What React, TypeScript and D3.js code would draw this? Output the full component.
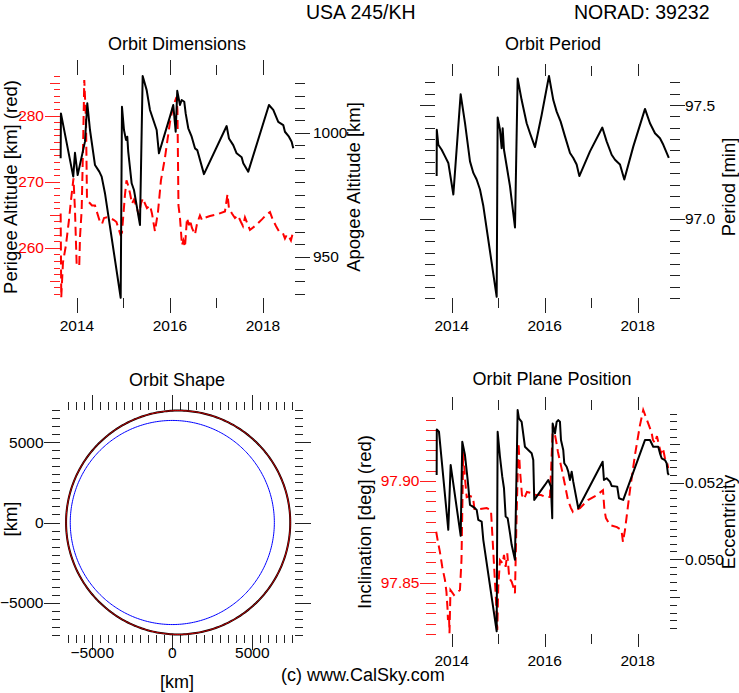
import React from 'react';
import * as d3 from 'd3';

const FONT = '"Liberation Sans", Arial, Helvetica, sans-serif';

// ---------- data ----------
const apogeeYears = [2013.649, 2013.655, 2013.92, 2013.957, 2014.015, 2014.172, 2014.222, 2014.28, 2014.387, 2014.48, 2014.531, 2014.602, 2014.94, 2014.968, 2015.011, 2015.054, 2015.082, 2015.103, 2015.176, 2015.226, 2015.355, 2015.413, 2015.499, 2015.57, 2015.714, 2015.763, 2016.0, 2016.071, 2016.123, 2016.157, 2016.215, 2016.252, 2016.308, 2016.338, 2016.394, 2016.467, 2016.538, 2016.587, 2016.731, 2017.219, 2017.269, 2017.361, 2017.434, 2017.542, 2017.577, 2017.684, 2018.129, 2018.222, 2018.329, 2018.437, 2018.473, 2018.559, 2018.617, 2018.652];
const apogeeKm = [989.7, 1007.8, 982.3, 991.9, 982.9, 996.4, 1011.9, 1001.1, 987.0, 984.3, 982.3, 975.6, 933.4, 1010.5, 1001.1, 997.1, 998.4, 992.3, 979.6, 976.9, 962.8, 1022.9, 1017.2, 1009.2, 1001.1, 991.7, 1006.5, 1011.2, 1000.4, 1016.9, 1011.2, 1013.2, 1012.5, 1007.8, 1001.8, 998.4, 993.7, 993.0, 983.3, 1002.7, 997.7, 995.0, 991.7, 990.1, 987.7, 984.3, 1011.2, 1009.2, 1004.4, 1003.1, 1000.4, 998.4, 996.4, 993.7];

const perigeeYears = [2013.649, 2013.662, 2013.699, 2013.763, 2013.828, 2013.871, 2013.925, 2013.957, 2013.994, 2014.049, 2014.065, 2014.101, 2014.135, 2014.157, 2014.194, 2014.215, 2014.258, 2014.323, 2014.387, 2014.43, 2014.495, 2014.538, 2014.581, 2014.645, 2014.71, 2014.796, 2014.849, 2014.935, 2014.968, 2015.032, 2015.065, 2015.097, 2015.14, 2015.183, 2015.226, 2015.29, 2015.333, 2015.376, 2015.419, 2015.462, 2015.505, 2015.57, 2015.613, 2015.677, 2015.742, 2015.806, 2015.892, 2016.0, 2016.065, 2016.14, 2016.161, 2016.183, 2016.215, 2016.258, 2016.29, 2016.323, 2016.366, 2016.409, 2016.43, 2016.473, 2016.538, 2016.581, 2016.645, 2016.688, 2016.731, 2016.86, 2017.032, 2017.183, 2017.237, 2017.269, 2017.333, 2017.398, 2017.462, 2017.527, 2017.57, 2017.613, 2017.72, 2017.849, 2017.978, 2018.086, 2018.151, 2018.215, 2018.28, 2018.344, 2018.43, 2018.473, 2018.516, 2018.559, 2018.602, 2018.634];
const perigeeKm = [265.2, 252.5, 257.8, 260.4, 264.2, 267.2, 270.5, 265.7, 257.3, 257.3, 261.6, 265.7, 276.7, 285.4, 279.3, 267.5, 266.9, 266.4, 266.4, 265.4, 263.9, 263.6, 264.5, 264.6, 264.5, 264.2, 263.9, 262.0, 262.3, 268.0, 270.2, 269.5, 268.3, 266.7, 267.3, 266.0, 264.9, 266.7, 267.5, 266.7, 266.0, 266.4, 265.2, 262.5, 265.4, 270.2, 273.6, 279.0, 281.3, 282.8, 280.8, 266.4, 264.6, 260.4, 261.1, 260.1, 264.5, 263.4, 264.2, 263.0, 262.0, 263.6, 264.9, 264.2, 264.5, 264.8, 265.1, 265.5, 268.1, 266.0, 265.2, 264.5, 264.9, 263.9, 263.3, 264.6, 262.7, 263.4, 264.3, 265.1, 265.4, 264.2, 263.3, 262.5, 262.2, 261.4, 262.0, 261.7, 261.1, 262.0];

const periodYears = [2013.677, 2013.68, 2013.713, 2013.785, 2013.857, 2013.928, 2014.036, 2014.193, 2014.287, 2014.394, 2014.466, 2014.537, 2014.609, 2014.681, 2014.968, 2014.989, 2015.039, 2015.075, 2015.097, 2015.125, 2015.254, 2015.362, 2015.419, 2015.505, 2015.613, 2015.685, 2015.792, 2015.935, 2016.093, 2016.186, 2016.258, 2016.344, 2016.437, 2016.545, 2016.616, 2016.688, 2016.746, 2016.975, 2017.24, 2017.333, 2017.441, 2017.513, 2017.62, 2017.713, 2017.907, 2018.158, 2018.265, 2018.373, 2018.48, 2018.552, 2018.67];
const periodMin = [97.187, 97.391, 97.325, 97.303, 97.274, 97.245, 97.106, 97.548, 97.42, 97.252, 97.201, 97.172, 97.128, 97.055, 96.655, 97.445, 97.391, 97.31, 97.398, 97.303, 97.143, 96.961, 97.617, 97.522, 97.42, 97.376, 97.315, 97.456, 97.628, 97.522, 97.471, 97.427, 97.362, 97.289, 97.267, 97.238, 97.187, 97.296, 97.401, 97.34, 97.281, 97.259, 97.238, 97.172, 97.318, 97.483, 97.42, 97.376, 97.354, 97.325, 97.267];

const eccYears = [2013.677, 2013.68, 2013.727, 2013.927, 2013.978, 2014.194, 2014.228, 2014.286, 2014.344, 2014.394, 2014.43, 2014.501, 2014.538, 2014.572, 2014.645, 2014.68, 2014.968, 2014.989, 2015.039, 2015.088, 2015.125, 2015.161, 2015.204, 2015.254, 2015.29, 2015.361, 2015.419, 2015.447, 2015.505, 2015.576, 2015.647, 2015.72, 2015.755, 2015.776, 2016.006, 2016.077, 2016.135, 2016.163, 2016.172, 2016.222, 2016.258, 2016.292, 2016.329, 2016.351, 2016.4, 2016.422, 2016.473, 2016.508, 2016.544, 2016.581, 2016.615, 2016.723, 2017.247, 2017.275, 2017.333, 2017.404, 2017.441, 2017.561, 2017.598, 2017.69, 2018.157, 2018.265, 2018.335, 2018.443, 2018.48, 2018.516, 2018.587, 2018.624, 2018.65, 2018.67];
const eccValues = [0.052201, 0.053393, 0.05333, 0.050766, 0.052462, 0.05061, 0.05307, 0.052723, 0.05207, 0.051418, 0.051392, 0.051332, 0.051288, 0.051027, 0.050983, 0.050505, 0.048113, 0.05333, 0.052678, 0.052157, 0.051854, 0.051113, 0.051071, 0.05068, 0.050375, 0.049983, 0.053897, 0.05368, 0.053591, 0.052939, 0.052853, 0.052767, 0.052592, 0.051549, 0.05194, 0.05207, 0.051896, 0.051071, 0.05355, 0.053289, 0.053591, 0.053636, 0.053591, 0.053114, 0.052853, 0.052506, 0.052417, 0.052287, 0.05207, 0.052287, 0.052026, 0.051332, 0.052548, 0.05207, 0.052115, 0.052026, 0.051914, 0.051896, 0.051593, 0.051549, 0.053114, 0.053114, 0.052939, 0.052939, 0.052767, 0.052637, 0.052592, 0.052506, 0.052245, 0.052201];

const incYears = [2013.667, 2013.705, 2013.748, 2013.798, 2013.856, 2013.888, 2013.91, 2013.92, 2013.942, 2013.953, 2013.974, 2014.006, 2014.049, 2014.114, 2014.178, 2014.211, 2014.232, 2014.249, 2014.286, 2014.323, 2014.394, 2014.458, 2014.49, 2014.609, 2014.753, 2014.845, 2014.953, 2014.981, 2015.002, 2015.039, 2015.097, 2015.125, 2015.161, 2015.196, 2015.239, 2015.29, 2015.325, 2015.361, 2015.394, 2015.437, 2015.469, 2015.512, 2015.555, 2015.619, 2015.705, 2015.813, 2015.92, 2016.028, 2016.114, 2016.178, 2016.243, 2016.286, 2016.372, 2016.437, 2016.501, 2016.566, 2016.609, 2016.673, 2016.759, 2016.931, 2017.125, 2017.254, 2017.286, 2017.318, 2017.404, 2017.555, 2017.652, 2017.684, 2017.727, 2017.835, 2017.942, 2018.05, 2018.12, 2018.2, 2018.297, 2018.329, 2018.372, 2018.415, 2018.458, 2018.501, 2018.544, 2018.587, 2018.63, 2018.658];
const incDeg = [97.875, 97.87, 97.865, 97.8577, 97.8513, 97.8454, 97.8376, 97.8317, 97.8342, 97.8252, 97.8464, 97.8454, 97.844, 97.8454, 97.8464, 97.8611, 97.8905, 97.9142, 97.9013, 97.892, 97.8925, 97.892, 97.8861, 97.8861, 97.8866, 97.8856, 97.8415, 97.8268, 97.848, 97.8611, 97.8595, 97.8636, 97.8578, 97.8644, 97.8522, 97.8505, 97.848, 97.8448, 97.8807, 97.9185, 97.9052, 97.893, 97.891, 97.8945, 97.894, 97.893, 97.893, 97.892, 97.892, 97.9273, 97.92, 97.9141, 97.9052, 97.8979, 97.8905, 97.8866, 97.8847, 97.8856, 97.8866, 97.8905, 97.893, 97.8954, 97.8856, 97.8817, 97.8783, 97.8773, 97.8758, 97.87, 97.8758, 97.8954, 97.9126, 97.9273, 97.9347, 97.9298, 97.9239, 97.92, 97.9185, 97.9219, 97.9175, 97.9136, 97.916, 97.9111, 97.9092, 97.9062];

const yearTicks = [2014, 2015, 2016, 2017, 2018];
const yearLabels = [2014, 2016, 2018];
const perigeeLabels = [260, 270, 280];
const apogeeLabels = [950, 1000];
const periodLabels = [97.0, 97.5];
const incLabels = [97.85, 97.9];
const eccLabels = [0.05, 0.052];
const shapeLabels = [-5000, 0, 5000];

const EARTH_RADIUS_KM = 6378;
const ORBIT_PERIGEE_KM = 262;
const ORBIT_APOGEE_KM = 994;

const TIME_DOMAIN: [number, number] = [2013.65, 2018.67];

// ---------- helpers ----------
type Tick = { v: number; len: number };

function VTicks({ scale, ticks, x, dir, color }: { scale: (v: number) => number; ticks: Tick[]; x: number; dir: number; color: string }) {
  return (
    <g stroke={color} strokeWidth={1} shapeRendering="crispEdges">
      {ticks.map((t, i) => {
        const y = Math.round(scale(t.v)) + 0.5;
        return <line key={i} x1={x} x2={x + dir * t.len} y1={y} y2={y} />;
      })}
    </g>
  );
}

function HTicks({ scale, ticks, y, dir, color }: { scale: (v: number) => number; ticks: Tick[]; y: number; dir: number; color: string }) {
  return (
    <g stroke={color} strokeWidth={1} shapeRendering="crispEdges">
      {ticks.map((t, i) => {
        const x = Math.round(scale(t.v)) + 0.5;
        return <line key={i} x1={x} x2={x} y1={y} y2={y + dir * t.len} />;
      })}
    </g>
  );
}

function pathOf(X: number[], Y: number[], xs: (v: number) => number, ys: (v: number) => number) {
  return d3.line<number>().x(i => xs(X[i])).y(i => ys(Y[i]))(d3.range(X.length)) || '';
}

const yearTickSpecs = (major: number, minor: number): Tick[] =>
  yearTicks.map(y => ({ v: y, len: y % 2 === 0 ? major : minor }));

const TXT = { fontFamily: FONT, fill: '#000' } as const;

function RotLabel({ x, y, text, size = 18.5 }: { x: number; y: number; text: string; size?: number }) {
  return (
    <text transform={`translate(${x},${y}) rotate(-90)`} textAnchor="middle" fontSize={size} style={TXT}>
      {text}
    </text>
  );
}

export default function App() {
  // Panel 1: Orbit Dimensions
  const p1x = d3.scaleLinear().domain(TIME_DOMAIN).range([60.7, 294.1]);
  const p1yL = d3.scaleLinear().domain([252.4, 286.0]).range([298, 76]);
  const p1yR = d3.scaleLinear().domain([933.3, 1022.9]).range([298, 76]);

  // Panel 2: Orbit Period
  const p2x = d3.scaleLinear().domain(TIME_DOMAIN).range([435.4, 668.8]);
  const p2y = d3.scaleLinear().domain([96.65, 97.628]).range([298, 76]);

  // Panel 4: Orbit Plane Position
  const p4yL = d3.scaleLinear().domain([97.8252, 97.9347]).range([633.3, 410]);
  const p4yR = d3.scaleLinear().domain([0.04806, 0.0539]).range([633.3, 410]);

  // Panel 3: Orbit Shape (isotropic, 16 px per 1000 km)
  const sx = d3.scaleLinear().domain([-7019, 7669]).range([60, 295]);
  const sy = d3.scaleLinear().domain([-7031, 7031]).range([635, 410]);

  const perigeeTicks: Tick[] = d3.range(253, 287).map(v => ({ v, len: v % 10 === 0 ? 15 : v % 5 === 0 ? 10 : 6 }));
  const apogeeTicks: Tick[] = d3.range(935, 1021, 5).map(v => ({ v, len: v % 50 === 0 ? 15 : 10 }));
  const periodTicks: Tick[] = d3.range(0, 20).map(i => ({ v: 96.65 + i * 0.05, len: i === 7 || i === 17 ? 15 : 10 }));
  const incTicks: Tick[] = d3.range(0, 22).map(i => ({ v: 97.825 + i * 0.005, len: i === 5 || i === 15 ? 16 : 10 }));
  const eccTicks: Tick[] = d3.range(241, 270).map(i => ({ v: i * 0.0002, len: i === 250 || i === 260 ? 14 : i === 245 || i === 265 ? 10 : 7 }));
  const shapeXTicks: Tick[] = d3.range(-13, 16).map(i => ({ v: i * 500, len: i % 10 === 0 ? 15 : 8 }));
  const shapeYTicks: Tick[] = d3.range(-14, 15).map(i => ({ v: i * 500, len: i % 10 === 0 ? 16 : 8 }));

  // orbit ellipse (focus at Earth centre, apogee toward +x)
  const rp = EARTH_RADIUS_KM + ORBIT_PERIGEE_KM;
  const ra = EARTH_RADIUS_KM + ORBIT_APOGEE_KM;
  const a = (rp + ra) / 2;
  const e = (ra - rp) / (ra + rp);
  const thetas = d3.range(0, 361).map(d => (d * Math.PI) / 180);
  const orbitPath = d3.line<number>()
    .x(t => sx((-a * (1 - e * e)) / (1 + e * Math.cos(t)) * Math.cos(t)))
    .y(t => sy(((a * (1 - e * e)) / (1 + e * Math.cos(t))) * Math.sin(t)))(thetas) || '';
  const earthPath = d3.line<number>()
    .x(t => sx(EARTH_RADIUS_KM * Math.cos(t)))
    .y(t => sy(EARTH_RADIUS_KM * Math.sin(t)))(thetas) || '';

  const tickFont = 15.5;
  const fmtYear = (y: number) => String(y);
  const fmtShape = (v: number) => (v < 0 ? '\u2212' + Math.abs(v) : String(v));

  return (
    <svg width={739} height={693} style={{ position: 'absolute', left: 0, top: 0, background: '#fff' }}>
      <rect x={0} y={0} width={739} height={693} fill="#fff" />

      {/* Header */}
      <text x={306} y={18.5} fontSize={19.5} style={TXT}>USA 245/KH</text>
      <text x={574} y={18.5} fontSize={19.5} style={TXT}>NORAD: 39232</text>

      {/* ---------------- Panel 1 ---------------- */}
      <text x={177} y={50} textAnchor="middle" fontSize={18} style={TXT}>Orbit Dimensions</text>
      <HTicks scale={p1x} ticks={yearTickSpecs(15, 10)} y={75} dir={-1} color="#222" />
      <HTicks scale={p1x} ticks={yearTickSpecs(15, 10)} y={298} dir={1} color="#222" />
      <VTicks scale={p1yL} ticks={perigeeTicks} x={60} dir={-1} color="#ff2020" />
      <VTicks scale={p1yR} ticks={apogeeTicks} x={294.5} dir={1} color="#222" />
      {yearLabels.map(y => (
        <text key={y} x={p1x(y)} y={331} textAnchor="middle" fontSize={tickFont} style={TXT}>{fmtYear(y)}</text>
      ))}
      {perigeeLabels.map(v => (
        <text key={v} x={44} y={p1yL(v) + 5.5} textAnchor="end" fontSize={tickFont} style={{ fontFamily: FONT }} fill="#ff0000">{v}</text>
      ))}
      {apogeeLabels.map(v => (
        <text key={v} x={313} y={p1yR(v) + 5.5} fontSize={tickFont} style={TXT}>{v}</text>
      ))}
      <path d={pathOf(perigeeYears, perigeeKm, p1x, p1yL)} fill="none" stroke="#ff0000" strokeWidth={2} strokeDasharray="9,5" />
      <path d={pathOf(apogeeYears, apogeeKm, p1x, p1yR)} fill="none" stroke="#000" strokeWidth={2} strokeLinejoin="round" />
      <RotLabel x={16.5} y={187} text="Perigee Altitude [km] (red)" />
      <RotLabel x={360} y={187} text="Apogee Altitude [km]" />

      {/* ---------------- Panel 2 ---------------- */}
      <text x={553} y={50} textAnchor="middle" fontSize={18} style={TXT}>Orbit Period</text>
      <HTicks scale={p2x} ticks={yearTickSpecs(12, 10)} y={76} dir={-1} color="#222" />
      <HTicks scale={p2x} ticks={yearTickSpecs(15, 10)} y={298} dir={1} color="#222" />
      <VTicks scale={p2y} ticks={periodTicks} x={435} dir={-1} color="#222" />
      <VTicks scale={p2y} ticks={periodTicks} x={669.5} dir={1} color="#222" />
      {yearLabels.map(y => (
        <text key={y} x={p2x(y)} y={331} textAnchor="middle" fontSize={tickFont} style={TXT}>{fmtYear(y)}</text>
      ))}
      {periodLabels.map(v => (
        <text key={v} x={685} y={p2y(v) + 5.5} fontSize={tickFont} style={TXT}>{v.toFixed(1)}</text>
      ))}
      <path d={pathOf(periodYears, periodMin, p2x, p2y)} fill="none" stroke="#000" strokeWidth={2} strokeLinejoin="round" />
      <RotLabel x={735} y={187} text="Period [min]" />

      {/* ---------------- Panel 3 ---------------- */}
      <text x={177} y={386} textAnchor="middle" fontSize={18} style={TXT}>Orbit Shape</text>
      <HTicks scale={sx} ticks={shapeXTicks} y={410} dir={-1} color="#222" />
      <HTicks scale={sx} ticks={shapeXTicks} y={635} dir={1} color="#222" />
      <VTicks scale={sy} ticks={shapeYTicks} x={60} dir={-1} color="#222" />
      <VTicks scale={sy} ticks={shapeYTicks} x={295} dir={1} color="#222" />
      {shapeLabels.map(v => (
        <text key={'x' + v} x={sx(v)} y={658} textAnchor="middle" fontSize={tickFont} style={TXT}>{fmtShape(v)}</text>
      ))}
      {shapeLabels.map(v => (
        <text key={'y' + v} x={43.5} y={sy(v) + 5.5} textAnchor="end" fontSize={tickFont} style={TXT}>{fmtShape(v)}</text>
      ))}
      <path d={earthPath} fill="none" stroke="#0000ff" strokeWidth={1} />
      <path d={orbitPath} fill="none" stroke="#000" strokeWidth={2} />
      <path d={orbitPath} fill="none" stroke="#e00000" strokeWidth={0.9} />
      <RotLabel x={16.5} y={519} text="[km]" />
      <text x={177} y={688} textAnchor="middle" fontSize={18} style={TXT}>[km]</text>

      {/* ---------------- Panel 4 ---------------- */}
      <text x={552} y={385} textAnchor="middle" fontSize={18} style={TXT}>Orbit Plane Position</text>
      <HTicks scale={p2x} ticks={yearTickSpecs(13, 10)} y={410} dir={-1} color="#222" />
      <HTicks scale={p2x} ticks={yearTickSpecs(13, 10)} y={633.5} dir={1} color="#222" />
      <VTicks scale={p4yL} ticks={incTicks} x={436} dir={-1} color="#ff2020" />
      <VTicks scale={p4yR} ticks={eccTicks} x={669.5} dir={1} color="#222" />
      {yearLabels.map(y => (
        <text key={y} x={p2x(y)} y={666} textAnchor="middle" fontSize={tickFont} style={TXT}>{fmtYear(y)}</text>
      ))}
      {incLabels.map(v => (
        <text key={v} x={419.5} y={p4yL(v) + 5.5} textAnchor="end" fontSize={tickFont} style={{ fontFamily: FONT }} fill="#ff0000">{v.toFixed(2)}</text>
      ))}
      {eccLabels.map(v => (
        <text key={v} x={685} y={p4yR(v) + 5.5} fontSize={tickFont} style={TXT}>{v.toFixed(3)}</text>
      ))}
      <path d={pathOf(incYears, incDeg, p2x, p4yL)} fill="none" stroke="#ff0000" strokeWidth={2} strokeDasharray="9,5" />
      <path d={pathOf(eccYears, eccValues, p2x, p4yR)} fill="none" stroke="#000" strokeWidth={2} strokeLinejoin="round" />
      <RotLabel x={371} y={522} text="Inclination [deg] (red)" />
      <RotLabel x={735} y={522} text="Eccentricity" />

      {/* footer */}
      <text x={281} y={681} fontSize={18} style={TXT}>(c) www.CalSky.com</text>
    </svg>
  );
}
